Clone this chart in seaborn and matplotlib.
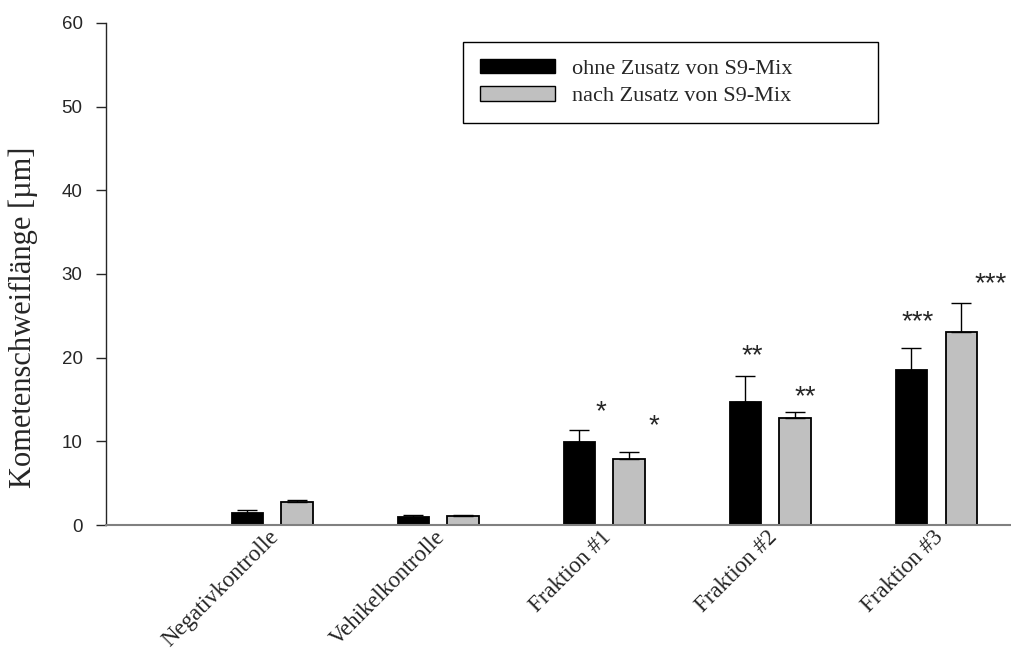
import matplotlib
matplotlib.use("Agg")
import matplotlib.pyplot as plt
import matplotlib.transforms as mtransforms
from matplotlib.patches import Patch
import numpy as np
import pandas as pd
import seaborn as sns

# Comet assay: tail length per treatment, with and without S9 metabolic activation
categories = ["Negativkontrolle", "Vehikelkontrolle", "Fraktion #1", "Fraktion #2", "Fraktion #3"]
series_names = ["ohne Zusatz von S9-Mix", "nach Zusatz von S9-Mix"]
mean_ohne = [1.4, 0.95, 9.9, 14.7, 18.5]
err_ohne = [0.35, 0.2, 1.5, 3.1, 2.6]
mean_nach = [2.7, 1.1, 7.9, 12.75, 23.05]
err_nach = [0.3, 0.05, 0.85, 0.75, 3.45]
stars_ohne = ["", "", "*", "**", "***"]
stars_nach = ["", "", "*", "**", "***"]
y_ticks = [0, 10, 20, 30, 40, 50, 60]

df = pd.DataFrame({
    "Kategorie": categories * 2,
    "Gruppe": [series_names[0]] * len(categories) + [series_names[1]] * len(categories),
    "Wert": mean_ohne + mean_nach,
})

sns.set_style("ticks")
plt.rcParams["font.family"] = ["Liberation Serif", "DejaVu Serif"]

fig = plt.figure(figsize=(10.11, 6.53), dpi=100)
ax = fig.add_axes([0.105, 0.196, 0.895, 0.769])

colors = ["#000000", "#C0C0C0"]
sns.barplot(data=df, x="Kategorie", y="Wert", hue="Gruppe", order=categories,
            hue_order=series_names, palette=colors, width=0.6, gap=0.37,
            edgecolor="black", linewidth=1.3, errorbar=None, legend=False, ax=ax)

# one-sided error bars and significance marks
containers = ax.containers
star_gap = [[0, 0, 2.1, 2.4, 3.1], [0, 0, 3.0, 1.8, 2.3]]
star_dx = [[0, 0, 0.13, 0.04, 0.04], [0, 0, 0.15, 0.06, 0.18]]
for k, (means, errs, stars) in enumerate([(mean_ohne, err_ohne, stars_ohne),
                                           (mean_nach, err_nach, stars_nach)]):
    for i, bar in enumerate(containers[k]):
        xc = bar.get_x() + bar.get_width() / 2
        ax.errorbar(xc, means[i], yerr=[[0], [errs[i]]], fmt="none",
                    ecolor="black", elinewidth=1.0, capsize=7, capthick=1.0, zorder=3)
        if stars[i]:
            ax.text(xc + star_dx[k][i], means[i] + errs[i] + star_gap[k][i], stars[i],
                    ha="center", va="center", fontsize=20, family="Liberation Sans")

ax.set_xlim(-1.0, 4.45)
ax.set_ylim(0, 60)
ax.set_yticks(y_ticks)
ax.set_yticklabels([str(t) for t in y_ticks], family="Liberation Sans", fontsize=13.5)
ax.tick_params(axis="y", direction="out", length=7, width=1, pad=10)
ax.yaxis.get_major_ticks()[0].tick1line.set_color("#808080")
ax.tick_params(axis="x", length=0, pad=1)
ax.set_xticks(range(len(categories)))
ax.set_xticklabels(categories, rotation=45, ha="right", rotation_mode="anchor",
                   fontsize=16.5, family="Liberation Serif")
shift = mtransforms.ScaledTranslation(-4 / 100, 0, fig.dpi_scale_trans)
for lab in ax.get_xticklabels():
    lab.set_transform(lab.get_transform() + shift)
ax.set_xlabel("")
ax.set_ylabel("Kometenschweiflänge [µm]", fontsize=22, family="Liberation Serif")
ax.yaxis.set_label_coords(-0.075, 0.414)

for s in ["top", "right"]:
    ax.spines[s].set_visible(False)
ax.spines["left"].set_linewidth(1.0)
ax.spines["bottom"].set_color("#808080")
ax.spines["bottom"].set_linewidth(1.5)

handles = [Patch(facecolor=c, edgecolor="black", linewidth=1.0) for c in colors]
leg = ax.legend(handles, series_names, loc="upper left",
                bbox_to_anchor=(0.3945, 0.807, 0.4586, 0.155), mode="expand",
                borderaxespad=0, frameon=True, fancybox=False, edgecolor="black", framealpha=1,
                handlelength=3.4, handleheight=0.62, handletextpad=0.75,
                borderpad=0.75, labelspacing=0.35, prop={"family": "Liberation Serif", "size": 16})
leg.get_frame().set_linewidth(1.0)

fig.savefig("out.png", dpi=100)
